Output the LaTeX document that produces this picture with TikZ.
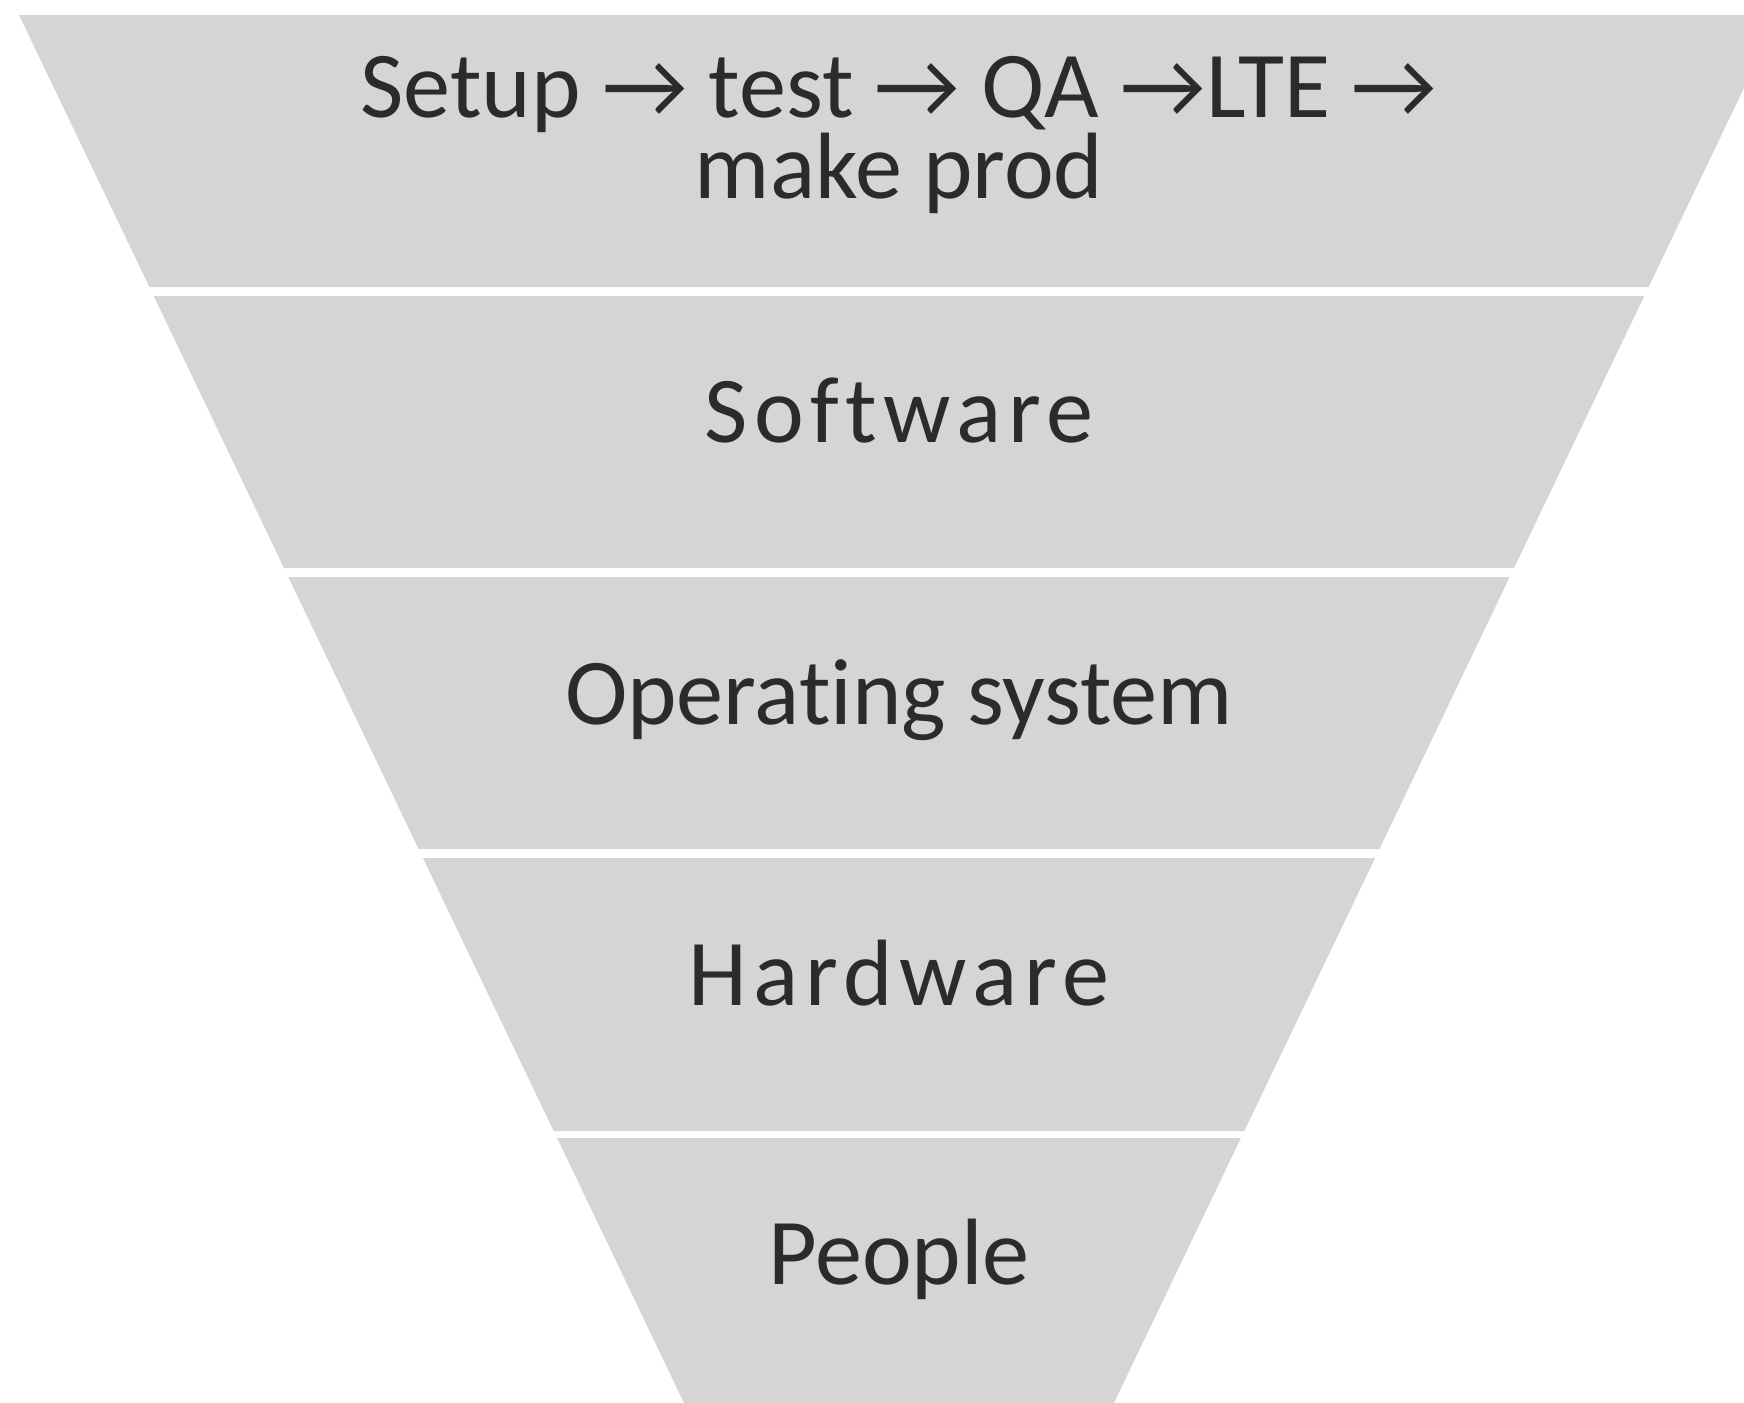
\documentclass[tikz,border=0pt]{standalone}
\usepackage{fontspec}
\setmainfont{Carlito}[Ligatures=NoCommon]
\usepackage{tikz}
\usetikzlibrary{calc}

\definecolor{bandgray}{HTML}{D5D5D5}
\definecolor{inkgray}{HTML}{2B2B2B}

\tikzset{
  band/.style={fill=bandgray, draw=none},
  lbl/.style={text=inkgray, inner sep=0pt, anchor=base,
    font=\fontsize{26.8}{23}\selectfont},
  spaced/.style={lbl, font=\fontsize{26.8}{23}\selectfont\addfontfeatures{LetterSpace=7}}
}

\begin{document}
\begin{tikzpicture}[x=0.01cm,y=-0.01cm]
	\useasboundingbox (0,0) rectangle (1744,1403);
	\clip (0,0) rectangle (1744,1403);

	% funnel bands, top to bottom
	\fill[band] (19,15) -- (1779,15) -- (1648.6,287) -- (149.4,287) -- cycle;
	\fill[band] (153.7,296) -- (1644.3,296) -- (1514,568) -- (284,568) -- cycle;
	\fill[band] (288.3,577) -- (1509.7,577) -- (1379.4,849) -- (418.6,849) -- cycle;
	\fill[band] (422.9,858) -- (1375.1,858) -- (1244.3,1131) -- (553.7,1131) -- cycle;
	\fill[band] (557.1,1138) -- (1240.9,1138) -- (1110.6,1410) -- (687.4,1410) -- cycle;

	% last line of the top label sits on the anchor
	\node[lbl, align=center] (setup) at (899,198) {Setup → test → QA →LTE →\\make prod};
	\node[spaced] (software) at (899,442) {Software};
	\node[lbl] (os) at (899,724) {Operating system};
	\node[spaced] (hardware) at (899,1005) {Hardware};
	\node[lbl] (people) at (899,1284) {People};
\end{tikzpicture}
\end{document}
